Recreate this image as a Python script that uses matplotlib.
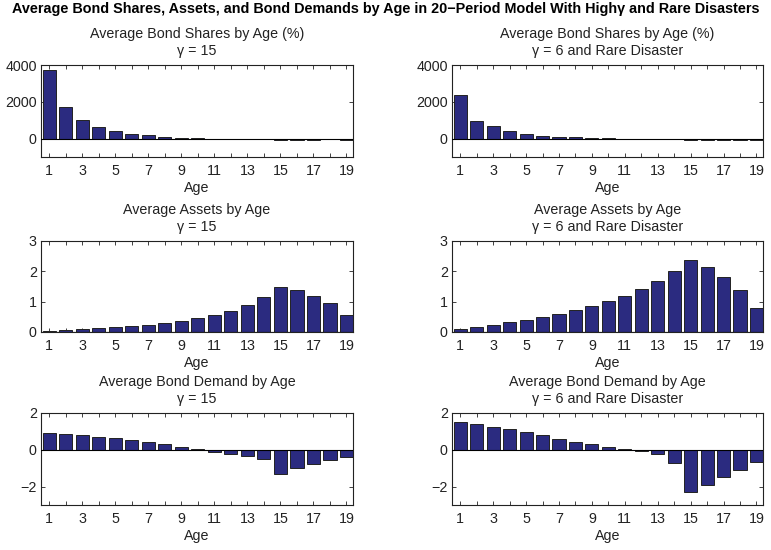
import matplotlib
matplotlib.use("Agg")
import matplotlib.pyplot as plt
import numpy as np

plt.rcParams['font.family'] = ['Liberation Sans', 'DejaVu Sans']

ages = list(range(1, 20))
xtick_labels = [str(a) if a % 2 == 1 else '' for a in ages]

shares_g15 = [3740, 1700, 1010, 645, 440, 276, 184, 110, 55, 30, 5, -10, -15, -20, -80, -60, -50, -40, -50]
shares_g6 = [2380, 975, 665, 405, 258, 166, 110, 72, 37, 20, 5, 0, -5, -15, -100, -80, -70, -70, -75]
assets_g15 = [0.04, 0.08, 0.11, 0.13, 0.165, 0.20, 0.24, 0.30, 0.36, 0.45, 0.55, 0.69, 0.88, 1.14, 1.48, 1.37, 1.19, 0.94, 0.56]
assets_g6 = [0.09, 0.15, 0.23, 0.32, 0.41, 0.50, 0.60, 0.72, 0.86, 1.01, 1.20, 1.41, 1.69, 2.00, 2.38, 2.14, 1.81, 1.37, 0.78]
demand_g15 = [0.92, 0.85, 0.79, 0.70, 0.63, 0.52, 0.41, 0.30, 0.16, 0.05, -0.10, -0.23, -0.32, -0.52, -1.29, -1.01, -0.76, -0.54, -0.37]
demand_g6 = [1.53, 1.40, 1.25, 1.12, 0.96, 0.79, 0.59, 0.45, 0.30, 0.16, 0.06, -0.06, -0.21, -0.74, -2.31, -1.91, -1.47, -1.10, -0.68]

titles = ["Average Bond Shares by Age (%)", "Average Assets by Age", "Average Bond Demand by Age"]
subtitles = ["\u03b3 = 15", "\u03b3 = 6 and Rare Disaster"]
data = [[shares_g15, shares_g6], [assets_g15, assets_g6], [demand_g15, demand_g6]]
ylims = [(-1000, 4000), (0, 3), (-3, 2)]
yticks = [[0, 2000, 4000], [0, 1, 2, 3], [-2, 0, 2]]

fig = plt.figure(figsize=(7.71, 5.5), dpi=100)
fig.suptitle("Average Bond Shares, Assets, and Bond Demands by Age in 20\u2212Period Model With High\u03b3 and Rare Disasters",
             fontsize=10.4, fontweight='bold', y=0.997, x=0.5, va='top')

lefts = [0.0532, 0.5863]
widths = [0.4047, 0.4034]
bottoms = [0.7145, 0.3964, 0.0818]
heights = [0.1673, 0.1655, 0.1673]

bar_color = '#2B2B80'
fs = 10.3
for r in range(3):
    for c in range(2):
        ax = fig.add_axes([lefts[c], bottoms[r], widths[c], heights[r]])
        ax.bar(ages, data[r][c], width=0.8, color=bar_color, edgecolor='#222222', linewidth=0.7, zorder=2)
        ax.axhline(0, color='black', linewidth=0.8, zorder=3)
        ax.set_xlim(0.5, 19.4)
        ax.set_ylim(*ylims[r])
        ax.set_yticks(yticks[r])
        ax.set_xticks(ages)
        ax.set_xticklabels(xtick_labels)
        ax.tick_params(direction='in', top=True, right=True, labelsize=fs, length=3, width=0.6, colors='#222222', pad=3)
        ax.tick_params(axis='x', pad=5)
        for s in ax.spines.values():
            s.set_linewidth(0.8)
            s.set_color('#222222')
        ax.set_xlabel("Age", fontsize=fs, labelpad=2, color='#222222')
        ax.set_title(titles[r] + "\n" + subtitles[c], fontsize=fs, pad=7, linespacing=1.28, color='#222222')

fig.savefig("out.png", dpi=100)
